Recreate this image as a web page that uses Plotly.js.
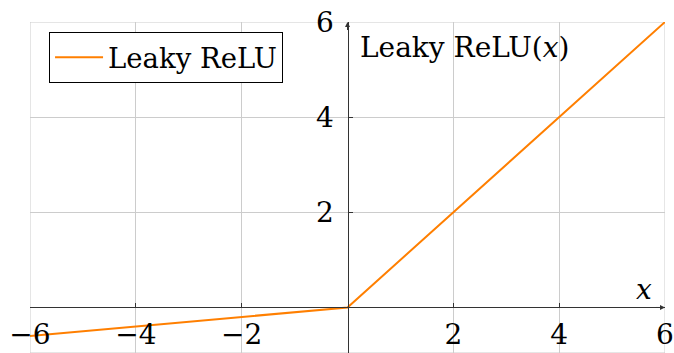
<!DOCTYPE html>
<html>
<head>
<meta charset="utf-8">
<script src="https://cdn.plot.ly/plotly-3.0.1.min.js"></script>
<style>
  html, body { margin: 0; padding: 0; background: #fff; }
  #chart { width: 674px; height: 353px; }
</style>
</head>
<body>
<div id="chart"></div>
<script>
// Leaky ReLU, slope 0.1 for negative inputs
const xValues = [-6, 0, 6];
const yValues = [-0.6, 0, 6];

const xTicks = [-6, -4, -2, 2, 4, 6];
const xTickText = ['\u22126', '\u22124', '\u22122', '2', '4', '6'];
const yTicks = [2, 4, 6];
const yTickText = ['2', '4', '6'];

const xRange = [-6, 6];
const yRange = [-0.957, 6];

const serif = 'DejaVu Serif';
const axisColor = '#333';
const gridColor = '#cccccc';

// put the axis lines through the origin
const xAxisPos = (0 - yRange[0]) / (yRange[1] - yRange[0]);
const yAxisPos = (0 - xRange[0]) / (xRange[1] - xRange[0]);

const trace = {
    x: xValues,
    y: yValues,
    name: 'Leaky ReLU',
    type: 'scatter',
    mode: 'lines',
    line: { color: '#ff7f00', width: 2 },
    cliponaxis: false
};

const layout = {
    width: 674,
    height: 353,
    margin: { l: 30, r: 9, t: 22, b: 0 },
    paper_bgcolor: '#fff',
    plot_bgcolor: '#fff',
    font: { family: serif, color: '#000', size: 27 },
    showlegend: true,
    legend: {
        x: 0.03, y: 0.97, xanchor: 'left', yanchor: 'top',
        bgcolor: '#fff', bordercolor: '#000', borderwidth: 1,
        itemwidth: 48,
        font: { family: serif, size: 27.5, color: '#000' }
    },
    xaxis: {
        range: xRange,
        anchor: 'free',
        position: xAxisPos,
        tickvals: xTicks,
        ticktext: xTickText,
        ticks: 'inside',
        ticklen: 4,
        tickcolor: axisColor,
        ticklabelstandoff: 2,
        showline: true,
        linecolor: axisColor,
        linewidth: 1,
        showgrid: true,
        gridcolor: gridColor,
        gridwidth: 1,
        zeroline: false,
        tickfont: { family: serif, size: 28 }
    },
    yaxis: {
        range: yRange,
        anchor: 'free',
        position: yAxisPos,
        tickvals: yTicks,
        ticktext: yTickText,
        ticks: 'inside',
        ticklen: 4,
        tickcolor: axisColor,
        ticklabelstandoff: 8,
        showline: true,
        linecolor: axisColor,
        linewidth: 1,
        showgrid: true,
        gridcolor: gridColor,
        gridwidth: 1,
        zeroline: false,
        tickfont: { family: serif, size: 28 }
    },
    shapes: [
        // light frame round the grid
        {
            type: 'rect', xref: 'x', yref: 'y', layer: 'below',
            x0: xRange[0], x1: xRange[1], y0: yRange[0], y1: yRange[1],
            line: { color: gridColor, width: 1 }
        }
    ],
    annotations: [
        // arrow heads at the axis ends
        {
            x: 6, y: 0, ax: 5.8, ay: 0, xref: 'x', yref: 'y', axref: 'x', ayref: 'y',
            showarrow: true, arrowhead: 2, arrowsize: 1, arrowwidth: 1, arrowcolor: axisColor, text: ''
        },
        {
            x: 0, y: 6, ax: 0, ay: 5.8, xref: 'x', yref: 'y', axref: 'x', ayref: 'y',
            showarrow: true, arrowhead: 2, arrowsize: 1, arrowwidth: 1, arrowcolor: axisColor, text: ''
        },
        {
            x: 5.61, y: 0.37, xref: 'x', yref: 'y', xanchor: 'center', yanchor: 'middle',
            text: '<i>x</i>', showarrow: false,
            font: { family: serif, size: 28, color: '#000' }
        },
        {
            x: 0.19, y: 5.46, xref: 'x', yref: 'y', xanchor: 'left', yanchor: 'middle',
            text: 'Leaky ReLU(<i>x</i>)', showarrow: false,
            font: { family: serif, size: 28, color: '#000' }
        }
    ]
};

Plotly.newPlot('chart', [trace], layout, { displayModeBar: false, staticPlot: true });
</script>
</body>
</html>
